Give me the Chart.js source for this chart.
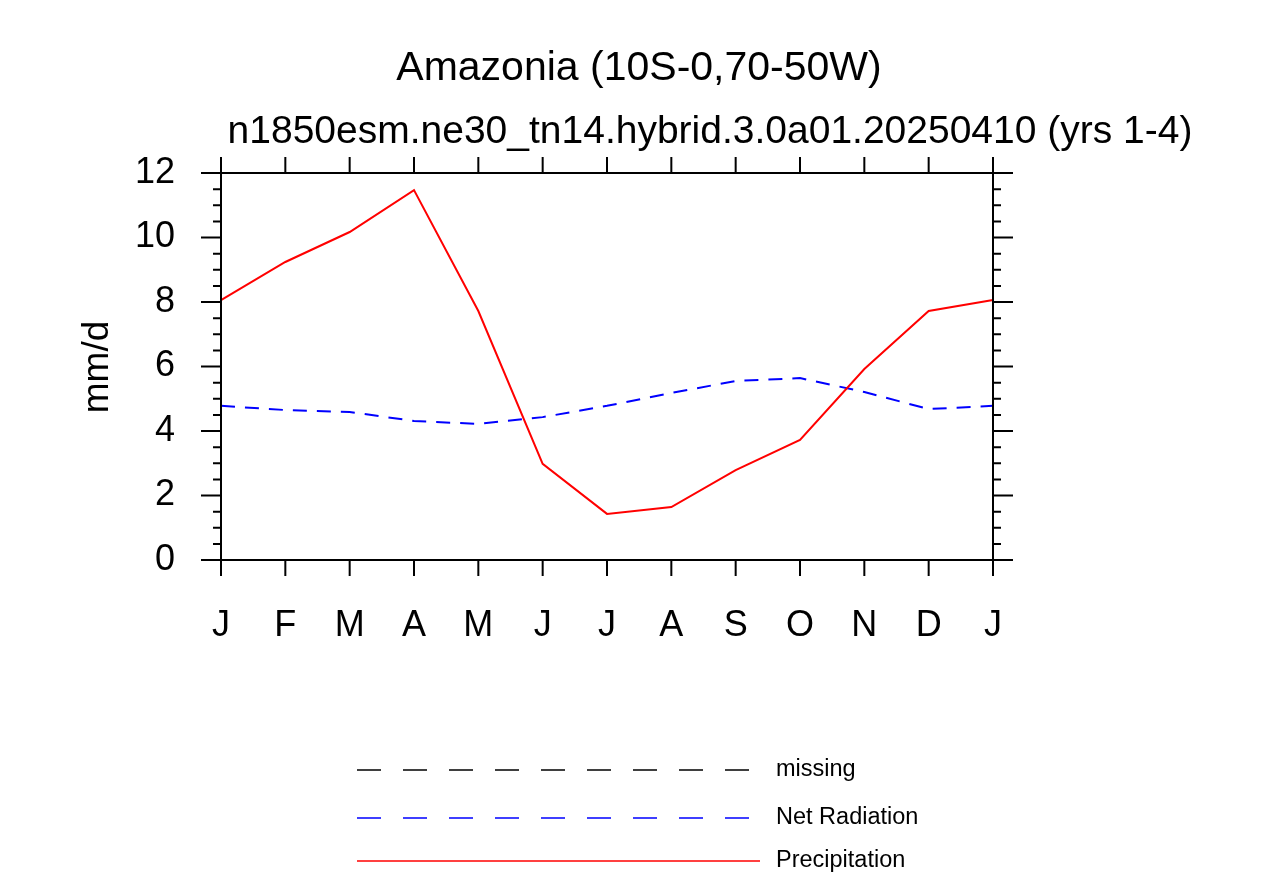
<!DOCTYPE html>
<html><head><meta charset="utf-8">
<script src="https://cdn.jsdelivr.net/npm/chart.js@4"></script>
<style>body{margin:0;background:#fff}#w{width:1275px;height:876px}</style>
</head><body><div id="w"><canvas id="c"></canvas></div>
<script>
const months = ['J','F','M','A','M','J','J','A','S','O','N','D','J'];
const precipitation = [8.06,9.24,10.17,11.47,7.72,2.98,1.43,1.64,2.79,3.72,5.92,7.72,8.06];
const netRadiation = [4.78,4.65,4.59,4.31,4.22,4.43,4.78,5.18,5.55,5.64,5.21,4.68,4.78];
const missing = [];
const yTicks = [0,2,4,6,8,10,12];
const title1 = 'Amazonia (10S-0,70-50W)';
const title2 = 'n1850esm.ne30_tn14.hybrid.3.0a01.20250410 (yrs 1-4)';
const FONT = 'Helvetica, "Liberation Sans", Arial, sans-serif';

const deco = {
  id:'deco',
  afterDraw(ch){
    const c=ch.ctx, a=ch.chartArea, x=ch.scales.x, y=ch.scales.y;
    c.save(); c.strokeStyle='#000'; c.lineWidth=2;
    c.strokeRect(a.left,a.top,a.right-a.left,a.bottom-a.top);
    c.beginPath();
    months.forEach((m,i)=>{const px=x.getPixelForValue(i);
      c.moveTo(px,a.bottom);c.lineTo(px,a.bottom+16);c.moveTo(px,a.top);c.lineTo(px,a.top-16);});
    for(let v=0;v<=12.001;v+=0.5){const py=y.getPixelForValue(v);const L=(v%2===0)?20:8;
      c.moveTo(a.left,py);c.lineTo(a.left-L,py);c.moveTo(a.right,py);c.lineTo(a.right+L,py);}
    c.stroke();
    c.fillStyle='#000'; c.textAlign='center'; c.textBaseline='alphabetic';
    c.font='41px '+FONT; c.fillText(title1,639,80);
    c.font='39px '+FONT; c.fillText(title2,710,143);
    c.save(); c.translate(108,367); c.rotate(-Math.PI/2); c.font='37px '+FONT; c.fillText('mm/d',0,0); c.restore();
    const ys=[770,818,861];
    ch.data.datasets.slice().reverse().forEach((d,i)=>{
      c.beginPath(); c.strokeStyle=d.borderColor; c.lineWidth=1.3;
      const dash=d.borderDash?[24,22]:[];
      c.setLineDash(dash); c.moveTo(357,ys[i]); c.lineTo(d.borderDash?750:760,ys[i]); c.stroke();
      c.setLineDash([]); c.fillStyle='#000'; c.textAlign='left'; c.textBaseline='middle';
      c.font='23.5px '+FONT; c.fillText(d.label,776,ys[i]);
    });
    c.restore();
  }
};

new Chart(document.getElementById('c'),{
  type:'line',
  data:{labels:months,datasets:[
    {label:'Precipitation',data:precipitation,borderColor:'#ff0000',borderWidth:2,pointRadius:0,tension:0},
    {label:'Net Radiation',data:netRadiation,borderColor:'#0000ff',borderWidth:2,borderDash:[14,10],pointRadius:0,tension:0},
    {label:'missing',data:missing,borderColor:'#000',borderWidth:1,borderDash:[18,13],pointRadius:0}
  ]},
  options:{responsive:true,maintainAspectRatio:false,animation:false,
    layout:{padding:{top:173,right:282,left:0,bottom:0}},
    plugins:{legend:{display:false},tooltip:{enabled:false}},
    scales:{
      x:{offset:false,grid:{display:false,drawTicks:false},border:{display:false},
        ticks:{padding:44,color:'#000',font:{size:36,family:FONT},maxRotation:0,autoSkip:false},
        afterFit(s){s.height=316;}},
      y:{min:0,max:12,grid:{display:false,drawTicks:false},border:{display:false},
        afterBuildTicks(s){s.ticks=yTicks.map(v=>({value:v}));},
        ticks:{padding:46,color:'#000',font:{size:36,family:FONT}},
        afterFit(s){s.width=221;}}
    }},
  plugins:[deco]
});
</script></body></html>
